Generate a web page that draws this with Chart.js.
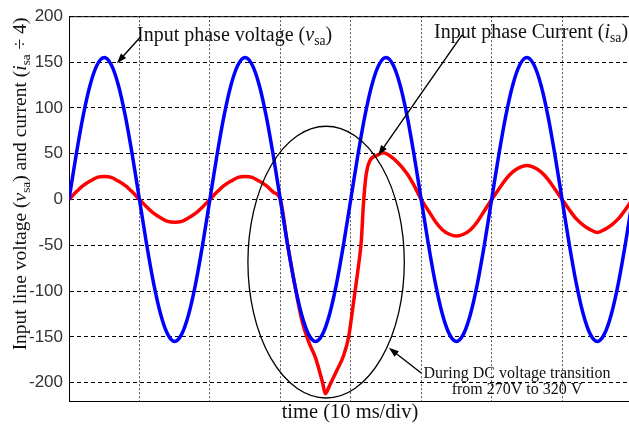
<!DOCTYPE html>
<html>
<head>
<meta charset="utf-8">
<script src="https://cdn.jsdelivr.net/npm/chart.js@4/dist/chart.umd.min.js"></script>
<style>
  html, body { margin: 0; padding: 0; background: #fff; }
  #wrap { width: 629px; height: 424px; }
</style>
</head>
<body>
<div id="wrap"><canvas id="waveChart"></canvas></div>
<script>
// time axis in ms (10 ms/div)
const voltageTime = [0,1,2,3,4,5,6,7,8,9,10,11,12,13,14,15,16,17,18,19,20,21,22,23,24,25,26,27,28,29,30,31,32,33,34,35,36,37,38,39,40,41,42,43,44,45,46,47,48,49,50,51,52,53,54,55,56,57,58,59,60,61,62,63,64,65,66,67,68,69,70,71,72,73,74,75,76,77,78,79,80];
const voltageVals = [0,48,91,125,147,155,147,125,91,48,0,-48,-91,-125,-147,-155,-147,-125,-91,-48,0,48,91,125,147,155,147,125,91,48,0,-48,-91,-125,-147,-155,-147,-125,-91,-48,0,48,91,125,147,155,147,125,91,48,0,-48,-91,-125,-147,-155,-147,-125,-91,-48,0,48,91,125,147,155,147,125,91,48,0,-48,-91,-125,-147,-155,-147,-125,-91,-48,0];

const currentTime = [0,1,2,3,4,5,6,7,8,9,10,11,12,13,14,15,16,17,18,19,20,21,22,23,24,25,26,27,28,29,30,31,32,33,34,35,36,36.4,37,38,39,39.7,40.4,41,41.5,41.8,42.2,42.7,43.7,44.6,45.5,46.7,48,49,50,51,52,53,54,55,56,57,58,59,60,61,62,63,64,65,66,67,68,69,70,71,72,73,74,75,76,77,78,79,80];
const currentVals = [0,8,15,20,24,25,24,20,15,8,0,-8,-15,-20,-24,-25,-24,-20,-15,-8,0,8,15,20,24,25,24,20,15,8,0,-48,-91,-130,-155,-173,-200,-212,-203,-187,-170,-150,-112,-78,-45,-5,28,42,48,51,48,40,28,15,0,-12,-24,-33,-38,-40,-38,-33,-24,-12,0,11,22,30,35,37,35,30,22,11,0,-11,-21,-28,-33,-36,-33,-28,-21,-11,0];

const yTicks = [200,150,100,50,0,-50,-100,-150,-200];
const xTicks = [0,10,20,30,40,50,60,70,80];

const serif = '"Liberation Serif", "Times New Roman", serif';

function drawRich(ctx, parts, x, y, size, align) {
  let w = 0;
  const sizes = parts.map(p => {
    ctx.font = (p.it ? 'italic ' : '') + (p.sub ? size * 0.68 : size) + 'px ' + serif;
    const m = ctx.measureText(p.t).width;
    w += m;
    return m;
  });
  let cx = align === 'center' ? x - w / 2 : x;
  ctx.textAlign = 'left';
  ctx.textBaseline = 'alphabetic';
  parts.forEach((p, i) => {
    ctx.font = (p.it ? 'italic ' : '') + (p.sub ? size * 0.68 : size) + 'px ' + serif;
    ctx.fillText(p.t, cx, p.sub ? y + size * 0.22 : y);
    cx += sizes[i];
  });
}

function arrow(ctx, x1, y1, x2, y2) {
  const a = Math.atan2(y2 - y1, x2 - x1);
  const L = 10, W = 3.5;
  ctx.beginPath();
  ctx.moveTo(x1, y1);
  ctx.lineTo(x2 - Math.cos(a) * L * 0.8, y2 - Math.sin(a) * L * 0.8);
  ctx.stroke();
  ctx.beginPath();
  ctx.moveTo(x2, y2);
  ctx.lineTo(x2 - Math.cos(a) * L - Math.sin(a) * W, y2 - Math.sin(a) * L + Math.cos(a) * W);
  ctx.lineTo(x2 - Math.cos(a) * L + Math.sin(a) * W, y2 - Math.sin(a) * L - Math.cos(a) * W);
  ctx.closePath();
  ctx.fill();
}

const notesPlugin = {
  id: 'notes',
  afterDatasetsDraw(chart) {
    const ctx = chart.ctx;
    const xs = chart.scales.x, ys = chart.scales.y;
    const ca = chart.chartArea;
    ctx.save();
    // top frame line
    ctx.strokeStyle = '#000';
    ctx.lineWidth = 1;
    ctx.beginPath();
    ctx.moveTo(ca.left, ca.top + 0.5);
    ctx.lineTo(ca.right, ca.top + 0.5);
    ctx.stroke();

    // ellipse around the transient
    ctx.lineWidth = 1.3;
    const ex = xs.getPixelForValue(36.5), ey = ys.getPixelForValue(-68.4);
    const rx = xs.getPixelForValue(47.6) - ex, ry = ys.getPixelForValue(-216.7) - ey;
    ctx.beginPath();
    ctx.ellipse(ex, ey, rx, ry, 0, 0, Math.PI * 2);
    ctx.stroke();

    // arrows
    ctx.fillStyle = '#000';
    ctx.lineWidth = 1.4;
    arrow(ctx, xs.getPixelForValue(10.1), ys.getPixelForValue(177), xs.getPixelForValue(6.8), ys.getPixelForValue(148.7));
    arrow(ctx, xs.getPixelForValue(55.8), ys.getPixelForValue(179.6), xs.getPixelForValue(43.9), ys.getPixelForValue(48.3));
    arrow(ctx, xs.getPixelForValue(50.0), ys.getPixelForValue(-189.4), xs.getPixelForValue(45.4), ys.getPixelForValue(-162));

    // labels
    ctx.fillStyle = '#111';
    drawRich(ctx, [{t: 'Input phase voltage ('}, {t: 'v', it: true}, {t: 'sa', sub: true}, {t: ')'}], 137, 41, 20, 'left');
    drawRich(ctx, [{t: 'Input phase Current ('}, {t: 'i', it: true}, {t: 'sa', sub: true}, {t: ')'}], 434, 38, 20, 'left');
    drawRich(ctx, [{t: 'During DC voltage transition'}], 517, 378, 16, 'center');
    drawRich(ctx, [{t: 'from 270V to 320 V'}], 517, 394, 16, 'center');
    drawRich(ctx, [{t: 'time (10 ms/div)'}], 350, 418, 20.5, 'center');

    ctx.translate(26, 184);
    ctx.rotate(-Math.PI / 2);
    drawRich(ctx, [{t: 'Input line voltage ('}, {t: 'v', it: true}, {t: 'sa', sub: true}, {t: ') and current ('},
      {t: 'i', it: true}, {t: 'sa', sub: true}, {t: ' \u00f7 4)'}], 0, 0, 19.5, 'center');
    ctx.restore();
  }
};

const ctx = document.getElementById('waveChart').getContext('2d');
new Chart(ctx, {
  type: 'line',
  data: {
    datasets: [
      {
        label: 'Input phase voltage',
        data: voltageTime.map((t, i) => ({x: t, y: voltageVals[i]})),
        borderColor: '#0000ff',
        borderWidth: 3.5,
        pointRadius: 0,
        cubicInterpolationMode: 'monotone',
        order: 1
      },
      {
        label: 'Input phase current',
        data: currentTime.map((t, i) => ({x: t, y: currentVals[i]})),
        borderColor: '#ff0000',
        borderWidth: 3.5,
        pointRadius: 0,
        cubicInterpolationMode: 'monotone',
        order: 2
      }
    ]
  },
  options: {
    responsive: true,
    maintainAspectRatio: false,
    animation: false,
    layout: { padding: { top: 16, right: 0, left: 0, bottom: 0 } },
    plugins: { legend: { display: false }, tooltip: { enabled: false } },
    scales: {
      x: {
        type: 'linear',
        min: 0,
        max: 79.5,
        afterBuildTicks: s => { s.ticks = xTicks.map(v => ({value: v})); },
        afterFit: s => { s.height = 23; },
        ticks: { display: false },
        grid: { color: '#555', lineWidth: 1, drawTicks: false },
        border: { display: true, color: '#000', width: 1, dash: [2, 2] }
      },
      y: {
        min: -220,
        max: 200,
        afterBuildTicks: s => { s.ticks = yTicks.map(v => ({value: v})); },
        afterFit: s => { s.width = 69; },
        ticks: {
          padding: 6,
          color: '#333',
          font: { family: '"Liberation Sans", Arial, sans-serif', size: 17 }
        },
        grid: { color: '#000', lineWidth: 1, drawTicks: false },
        border: { display: true, color: '#000', width: 1, dash: [4, 3] }
      }
    }
  },
  plugins: [notesPlugin]
});
</script>
</body>
</html>
